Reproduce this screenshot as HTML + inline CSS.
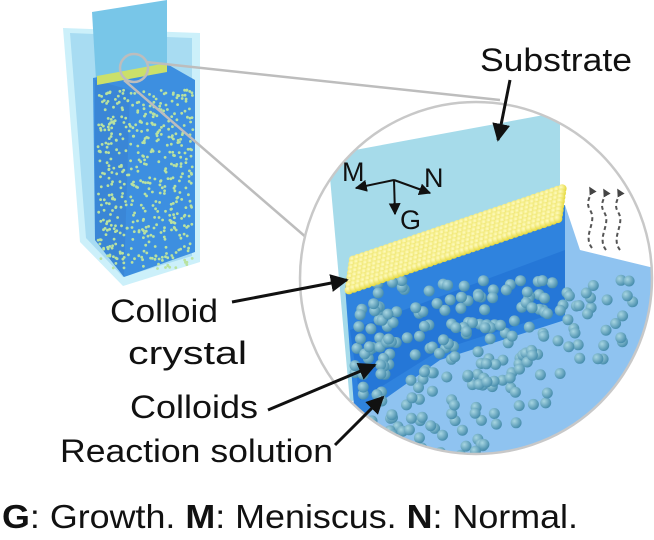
<!DOCTYPE html>
<html><head><meta charset="utf-8"><style>
html,body{margin:0;padding:0;background:#fff;width:654px;height:540px;overflow:hidden}
svg{display:block}
text{font-family:"Liberation Sans",sans-serif;fill:#111}
</style></head><body>
<svg id="s" width="654" height="540" viewBox="0 0 654 540" xmlns="http://www.w3.org/2000/svg">
<defs>
<marker id="ah" viewBox="0 0 10 10" refX="9" refY="5" markerWidth="6" markerHeight="6" orient="auto"><path d="M0,0L10,5L0,10z" fill="#111"/></marker>
<marker id="ah2" viewBox="0 0 10 10" refX="8" refY="5" markerWidth="4" markerHeight="4" orient="auto"><path d="M0,0L10,5L0,10z" fill="#444"/></marker>
<clipPath id="cc"><circle cx="476" cy="278" r="176"/></clipPath>
<radialGradient id="yb" cx="35%" cy="35%" r="65%"><stop offset="0" stop-color="#fffbc0"/><stop offset="1" stop-color="#e6da40"/></radialGradient>
<radialGradient id="tb" cx="35%" cy="35%" r="65%"><stop offset="0" stop-color="#a8d6e2"/><stop offset="1" stop-color="#4a8fae"/></radialGradient>
</defs>
<polygon points="63,28 200,33 200,262 123,286 80,242" fill="#c6eef9" opacity="0.9"/>
<polygon points="70,33 192,38 192,256 123,277 86,238" fill="#a8dcf2"/>
<polygon points="92,12 167,0 167,67 96,80" fill="#78c6e8"/>
<polygon points="93,78 167,64 195,80 195,252 124,277 95,240" fill="#3d8fe0"/>
<polygon points="95,80 130,90 124,277 95,240" fill="#3a86d6"/>
<polygon points="97,76 167,63 167,72 97,85" fill="#cbe06a"/>
<g id="small"></g>
<circle cx="134" cy="68" r="14" fill="none" stroke="#bdbdbd" stroke-width="2.5"/>
<line x1="146" y1="62" x2="500" y2="100" stroke="#bdbdbd" stroke-width="2.5"/>
<line x1="124" y1="80" x2="315" y2="245" stroke="#bdbdbd" stroke-width="2.5"/>
<circle cx="476" cy="278" r="176" fill="#fff"/>
<g clip-path="url(#cc)">
<polygon points="328,155 560,112 560,240 350,403" fill="#a6dbea"/>
<polygon points="345,285 565,205 580,250 654,268 654,330 600,420 560,470 420,470 355,420" fill="#8fc3f0"/>
<polygon points="345,285 565,205 565,320 440,360 355,420" fill="#2f83de"/>
<polygon points="350,330 565,250 565,310 440,350 360,400" fill="#1f6fd2" opacity="0.6"/>
<g id="cols"></g>
<g id="cry"></g>
</g>
<circle cx="476" cy="278" r="176" fill="none" stroke="#c8c8c8" stroke-width="2.5"/>
<g fill="none" stroke="#555" stroke-width="2" stroke-dasharray="4,3" marker-end="url(#ah2)">
<path d="M592,248 C582,235 598,222 590,210 C584,200 594,195 590,188"/>
<path d="M606,250 C596,237 612,224 604,212 C598,202 608,197 604,190"/>
<path d="M620,250 C610,237 626,224 618,212 C612,202 622,197 618,190"/>
</g>
<g stroke="#111" stroke-width="2" fill="none" marker-end="url(#ah)">
<line x1="394" y1="180" x2="356" y2="188"/>
<line x1="394" y1="180" x2="430" y2="193"/>
<line x1="394" y1="180" x2="395" y2="214"/>
</g>
<text x="342" y="181" font-size="27">M</text>
<text x="424" y="187" font-size="27">N</text>
<text x="400" y="229" font-size="27">G</text>
<text x="480" y="71" font-size="32" textLength="152" lengthAdjust="spacingAndGlyphs">Substrate</text>
<line x1="510" y1="80" x2="498" y2="140" stroke="#111" stroke-width="3" marker-end="url(#ah)"/>
<text x="110" y="322" font-size="32" textLength="108" lengthAdjust="spacingAndGlyphs">Colloid</text>
<text x="128" y="364" font-size="32" textLength="119" lengthAdjust="spacingAndGlyphs">crystal</text>
<line x1="232" y1="302" x2="347" y2="280" stroke="#111" stroke-width="3" marker-end="url(#ah)"/>
<text x="130" y="418" font-size="32" textLength="128" lengthAdjust="spacingAndGlyphs">Colloids</text>
<line x1="268" y1="410" x2="375" y2="365" stroke="#111" stroke-width="3" marker-end="url(#ah)"/>
<text x="60" y="462" font-size="32" textLength="273" lengthAdjust="spacingAndGlyphs">Reaction solution</text>
<line x1="335" y1="445" x2="383" y2="397" stroke="#111" stroke-width="3" marker-end="url(#ah)"/>
<text x="2" y="528" font-size="33" textLength="576" lengthAdjust="spacingAndGlyphs"><tspan font-weight="bold">G</tspan>: Growth. <tspan font-weight="bold">M</tspan>: Meniscus. <tspan font-weight="bold">N</tspan>: Normal.</text>
</svg>
<script>
var NS="http://www.w3.org/2000/svg";
var seed=7;function r(){seed=(seed*9301+49297)%233280;return seed/233280;}
function c(g,x,y,rad,fill){var e=document.createElementNS(NS,"circle");e.setAttribute("cx",x.toFixed(1));e.setAttribute("cy",y.toFixed(1));e.setAttribute("r",rad);e.setAttribute("fill",fill);g.appendChild(e);}
var cols=document.getElementById("cols");
for(var i=0;i<320;i++){var x=355+r()*280,y=280+r()*190;
 var top=292-(x-345)*0.35; if(y<top+8)continue;
 if(x>560&&y<260)continue;
 if(x>440 && y>480-(x-440)*0.7)continue;
 c(cols,x,y,5.5,"url(#tb)");}
var cry=document.getElementById("cry");
for(var row=7;row>=0;row--){for(var k=0;k<45;k++){var x=349+k*4.75+row*0.6,y=290-k*1.62-row*4.3;
 c(cry,x,y,4.4,"url(#yb)");}}
var sm=document.getElementById("small");
for(var i=0;i<500;i++){var x=98+r()*95,y=90+r()*180;c(sm,x,y,1.4,"#b9e2a0");}
</script>
</body></html>
